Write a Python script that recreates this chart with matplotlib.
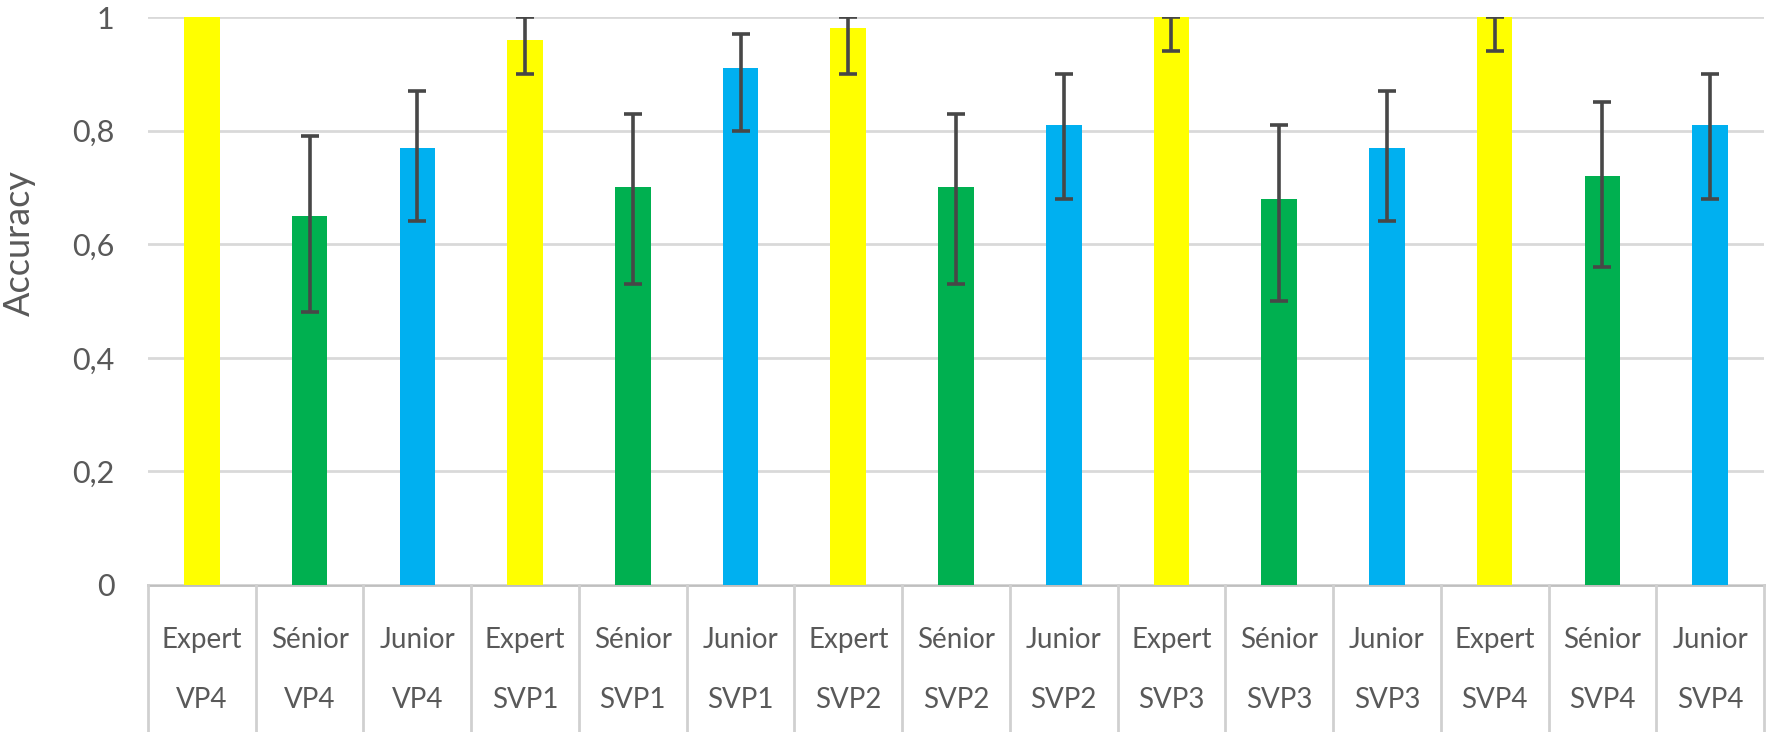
import matplotlib
matplotlib.use("Agg")
import matplotlib.pyplot as plt
import matplotlib.transforms as mtransforms
import numpy as np

# data
groups = ["VP4", "VP4", "VP4", "SVP1", "SVP1", "SVP1", "SVP2", "SVP2", "SVP2",
          "SVP3", "SVP3", "SVP3", "SVP4", "SVP4", "SVP4"]
levels = ["Expert", "Sénior", "Junior"] * 5
accuracy = [1.00, 0.65, 0.77, 0.96, 0.70, 0.91, 0.98, 0.70, 0.81,
            1.00, 0.68, 0.77, 1.00, 0.72, 0.81]
err_low = [None, 0.48, 0.64, 0.90, 0.53, 0.80, 0.90, 0.53, 0.68,
           0.94, 0.50, 0.64, 0.94, 0.56, 0.68]
err_high = [None, 0.79, 0.87, 1.00, 0.83, 0.97, 1.00, 0.83, 0.90,
            1.00, 0.81, 0.87, 1.00, 0.85, 0.90]
level_colors = {"Expert": "#FFFF00", "Sénior": "#00B050", "Junior": "#00B0F0"}

plt.rcParams['font.family'] = ['Lato', 'DejaVu Sans']
txt = "#595959"

fig = plt.figure(figsize=(17.7, 7.32), dpi=100)
ax = fig.add_axes([148 / 1770, 147 / 732, 1616 / 1770, 568 / 732])

x = np.arange(len(accuracy))
ax.bar(x, accuracy, width=0.33, color=[level_colors[l] for l in levels], zorder=2)

idx = [i for i in range(len(accuracy)) if err_low[i] is not None]
vals = np.array([accuracy[i] for i in idx])
lo = vals - np.array([err_low[i] for i in idx])
hi = np.array([err_high[i] for i in idx]) - vals
ax.errorbar(x[idx], vals, yerr=[lo, hi], fmt="none", ecolor="#474747",
            elinewidth=2.6, capsize=6.5, capthick=2.6, zorder=3)

ax.set_xlim(-0.5, len(accuracy) - 0.5)
ax.set_ylim(0, 1)
ax.set_yticks([0, 0.2, 0.4, 0.6, 0.8, 1.0])
ax.set_yticklabels(["0", "0,2", "0,4", "0,6", "0,8", "1"], fontsize=22, color=txt)
ax.tick_params(axis="y", length=0, pad=24)
ax.set_xticks([])
ax.grid(axis="y", color="#d9d9d9", linewidth=2, zorder=0)
for s in ["top", "right", "left"]:
    ax.spines[s].set_visible(False)
ax.spines["bottom"].set_color("#bfbfbf")
ax.spines["bottom"].set_linewidth(2)
ax.spines["bottom"].set_zorder(1)

# two-level category labels
trans = mtransforms.blended_transform_factory(ax.transData, ax.transAxes)
for i in range(len(accuracy)):
    ax.text(i, -0.097, levels[i], transform=trans, ha="center", va="center",
            fontsize=20, color=txt)
    ax.text(i, -0.2025, groups[i], transform=trans, ha="center", va="center",
            fontsize=20, color=txt)
for b in np.arange(-0.5, len(accuracy), 1.0):
    ax.plot([b, b], [0, -0.26], transform=trans, color="#d0d0d0",
            linewidth=2, clip_on=False)

fig.text(19 / 1770, 1 - 243 / 732, "Accuracy", rotation=90, ha="center",
         va="center", fontsize=26, color=txt)

fig.savefig("out.png", dpi=100)
